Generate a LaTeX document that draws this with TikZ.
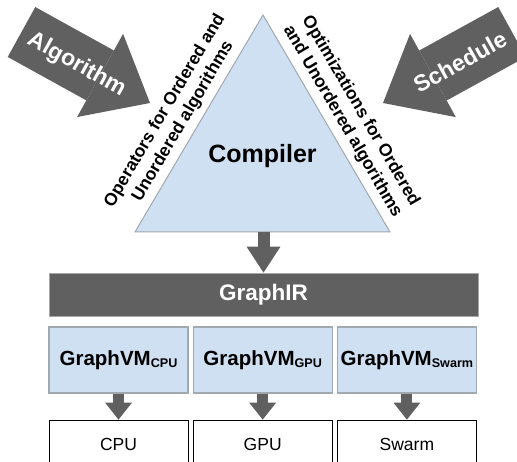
\documentclass[tikz,border=0pt]{standalone}
\usepackage{fontspec}
\setmainfont{Liberation Sans}
\usetikzlibrary{arrows.meta,positioning}

\definecolor{blockgray}{RGB}{96,96,96}
\definecolor{paleblue}{RGB}{207,224,242}
\definecolor{edgegray}{RGB}{160,168,176}

% lowered small text for the GraphVM targets
\newcommand{\vmsub}[1]{\raisebox{-2.5pt}{\fontsize{12.6}{14}\selectfont #1}}

\tikzset{
  bigarrow/.style={draw=blockgray, line width=57pt, -{Triangle[length=57pt, width=95pt, line width=0pt]}},
  midarrow/.style={draw=blockgray, line width=12pt, -{Triangle[length=26pt, width=34pt, line width=0pt]}},
  smallarrow/.style={draw=blockgray, line width=11pt, -{Triangle[length=17pt, width=27pt, line width=0pt]}},
  arrowtext/.style={text=white, font=\bfseries\fontsize{23}{28}\selectfont},
  sidetext/.style={font=\bfseries\fontsize{17.5}{21}\selectfont, align=center, sloped},
  vmbox/.style={draw=edgegray, line width=1.2pt, fill=paleblue, minimum width=139pt, minimum height=66pt, inner sep=0pt, font=\bfseries\fontsize{20.5}{24}\selectfont},
  devbox/.style={draw=black, line width=0.8pt, minimum width=139pt, inner ysep=0pt, text height=30pt, text depth=25pt, font=\fontsize{17.5}{21}\selectfont}
}

\begin{document}
\begin{tikzpicture}[x=1pt,y=1pt]
\useasboundingbox (0,0) rectangle (517,461);

% compiler triangle
\coordinate (apex) at (263,446);
\coordinate (baseL) at (135,229);
\coordinate (baseR) at (390,229);
\coordinate (tribase) at (263.5,229);
\draw[edgegray, line width=1pt, fill=paleblue] (apex) -- (baseL) -- (baseR) -- cycle;
\node[font=\bfseries\fontsize{25}{30}\selectfont, anchor=base] (compiler) at (262.5,298) {Compiler};

\path (baseL) -- (apex) node[sidetext, pos=0.475, above=3pt] (ops) {Operators for Ordered and\\Unordered algorithms};
\path (apex) -- (baseR) node[sidetext, pos=0.525, above=3pt] (opts) {Optimizations for Ordered\\and Unordered algorithms};

% inputs
\coordinate (algtail) at (21.5,429);
\coordinate (algtip) at (150,358);
\coordinate (schtail) at (512,429);
\coordinate (schtip) at (383,358);
\draw[bigarrow] (algtail) -- (algtip);
\draw[bigarrow] (schtail) -- (schtip);
\node[arrowtext, rotate=-28.9] (alg) at (77,396) {Algorithm};
\node[arrowtext, rotate=28.9] (sch) at (460,399) {Schedule};

% IR and backends
\node[fill=blockgray, draw=gray!70, line width=0.8pt, minimum width=429pt, minimum height=43pt, text=white, font=\bfseries\fontsize{22.5}{27}\selectfont] (ir) at (263.5,166.5) {GraphIR};
\draw[midarrow] (tribase) -- (tribase |- ir.north);

\node[vmbox] (vmcpu) at (118.5,101) {GraphVM\vmsub{CPU}};
\node[vmbox, right=4pt of vmcpu] (vmgpu) {GraphVM\vmsub{GPU}};
\node[vmbox, right=4pt of vmgpu] (vmswarm) {GraphVM\vmsub{Swarm}};

\node[devbox, below=26pt of vmcpu] (cpu) {CPU};
\node[devbox, below=26pt of vmgpu] (gpu) {GPU};
\node[devbox, below=26pt of vmswarm] (swarm) {Swarm};

\draw[smallarrow] (vmcpu) -- (cpu);
\draw[smallarrow] (vmgpu) -- (gpu);
\draw[smallarrow] (vmswarm) -- (swarm);
\end{tikzpicture}
\end{document}
